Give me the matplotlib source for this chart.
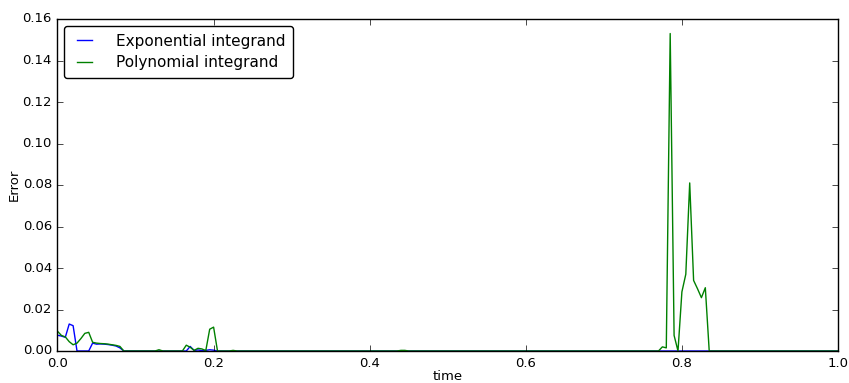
import matplotlib
matplotlib.use("Agg")
import matplotlib.pyplot as plt

plt.style.use("classic")

# Exponential integrand error: sampled times and values
exp_time = [0.000, 0.005, 0.010, 0.015, 0.020, 0.025, 0.030, 0.035, 0.040,
            0.045, 0.050, 0.055, 0.060, 0.065, 0.070, 0.075, 0.080, 0.085,
            0.090, 0.160, 0.165, 0.170, 0.175, 0.180, 0.185, 0.190, 0.195,
            0.200, 0.205, 1.000]
exp_error = [0.0076, 0.0072, 0.0066, 0.0130, 0.0122, 0.0000, 0.0000, 0.0000, 0.0000,
             0.0038, 0.0033, 0.0034, 0.0033, 0.0031, 0.0028, 0.0024, 0.0015, 0.0000,
             0.0000, 0.0000, 0.0000, 0.0022, 0.0003, 0.0005, 0.0002, 0.0003, 0.0006,
             0.0004, 0.0000, 0.0000]

# Polynomial integrand error: sampled times and values
poly_time = [0.000, 0.005, 0.010, 0.015, 0.020, 0.025, 0.030, 0.035, 0.040,
             0.045, 0.050, 0.055, 0.060, 0.065, 0.070, 0.075, 0.080, 0.085,
             0.090, 0.125, 0.130, 0.135, 0.160, 0.165, 0.170, 0.175, 0.180,
             0.185, 0.190, 0.195, 0.200, 0.205, 0.220, 0.225, 0.230, 0.435,
             0.440, 0.445, 0.450, 0.770, 0.775, 0.780, 0.785, 0.790, 0.795,
             0.800, 0.805, 0.810, 0.815, 0.820, 0.825, 0.830, 0.835, 1.000]
poly_error = [0.0095, 0.0075, 0.0068, 0.0045, 0.0030, 0.0038, 0.0060, 0.0085, 0.0090,
              0.0042, 0.0038, 0.0036, 0.0035, 0.0033, 0.0030, 0.0027, 0.0022, 0.0000,
              0.0000, 0.0000, 0.0006, 0.0000, 0.0000, 0.0028, 0.0018, 0.0003, 0.0013,
              0.0010, 0.0002, 0.0105, 0.0115, 0.0000, 0.0000, 0.0003, 0.0000, 0.0000,
              0.0003, 0.0003, 0.0000, 0.0000, 0.0020, 0.0015, 0.1530, 0.0075, 0.0000,
              0.0285, 0.0370, 0.0810, 0.0340, 0.0300, 0.0257, 0.0305, 0.0000, 0.0000]

fig = plt.figure(figsize=(8.49, 3.83), dpi=100, facecolor="white")
ax = fig.add_axes([57.5 / 849, 1 - 351 / 383, (838 - 57.5) / 849, (351 - 19) / 383])
ax.set_facecolor("white")

ax.plot(exp_time, exp_error, color="b", lw=1.0, label="Exponential integrand")
ax.plot(poly_time, poly_error, color="g", lw=1.0, label="Polynomial integrand")

ax.set_xlim(0, 1)
ax.set_ylim(0, 0.16)
ax.set_xticks([0.0, 0.2, 0.4, 0.6, 0.8, 1.0])
ax.set_yticks([0.00, 0.02, 0.04, 0.06, 0.08, 0.10, 0.12, 0.14, 0.16])
ax.set_xticklabels(["0.0", "0.2", "0.4", "0.6", "0.8", "1.0"])
ax.set_yticklabels(["0.00", "0.02", "0.04", "0.06", "0.08", "0.10", "0.12", "0.14", "0.16"])
ax.tick_params(labelsize=9.5)
ax.set_xlabel("time", fontsize=9.5, labelpad=0)
ax.set_ylabel("Error", fontsize=9.5, labelpad=1)

leg = ax.legend(loc="upper left", fontsize=11, fancybox=True,
                handlelength=1.6, handletextpad=1.25, labelspacing=0.45,
                borderpad=0.5, borderaxespad=0.45)
leg.get_frame().set_edgecolor("black")

fig.savefig("out.png", dpi=100, facecolor="white")
